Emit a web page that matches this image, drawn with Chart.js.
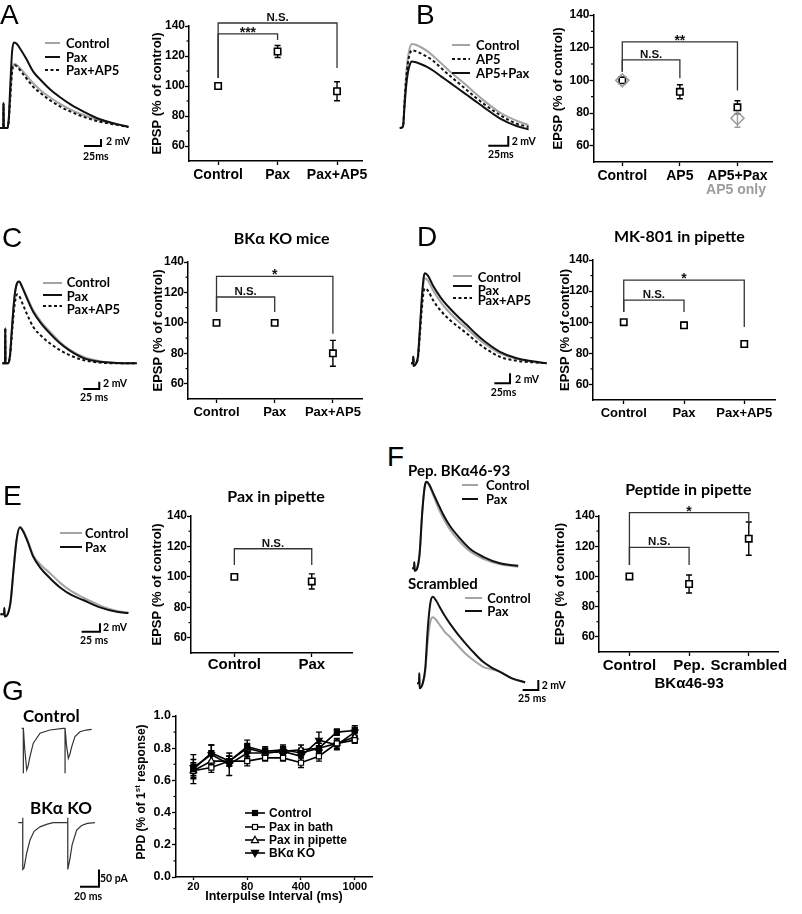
<!DOCTYPE html>
<html>
<head>
<meta charset="utf-8">
<title>EPSP figure</title>
<script src="https://cdn.jsdelivr.net/npm/chart.js@4.4.1/dist/chart.umd.min.js"></script>
<style>
  html, body { margin: 0; padding: 0; background: #fff; }
  #fig { position: relative; width: 802px; height: 914px; overflow: hidden; background: #fff; }
  #fig canvas, #fig svg, #fig div { position: absolute; }
  .lbl { white-space: nowrap; line-height: 1; color: #000; }
</style>
</head>
<body>
<div id="fig"></div>
<script>
// ---- summary plots: EPSP (% of control) ----
const epspTicks = [60, 80, 100, 120, 140]
const epspMinor = [70, 90, 110, 130]

const catsA = ['Control', 'Pax', 'Pax+AP5']
const meanA = [100, 123, 96.5]
const semA = [0, 4, 6.3]

const catsB = ['Control', 'AP5', 'AP5+Pax']
const meanB = [100, 93, 83.5]
const semB = [0, 4.3, 4]
const ap5OnlyB = [100, null, 76.8]
const ap5OnlySemB = [0, 0, 5.5]

const catsC = ['Control', 'Pax', 'Pax+AP5']
const meanC = [100, 100, 80]
const semC = [0, 1, 8.5]

const catsD = ['Control', 'Pax', 'Pax+AP5']
const meanD = [100, 98, 86]
const semD = [0, 1.8, 1.5]

const catsE = ['Control', 'Pax']
const meanE = [100, 97]
const semE = [0, 5]

const catsF = ['Control', ['Pep.', 'BKα46-93'], 'Scrambled']
const meanF = [100, 95, 125]
const semF = [0, 6, 11]

// significance brackets (value units)
const sigA = [
  {from: 0, to: 2, y: 142, l: 105.3, r: 112, text: 'N.S.'},
  {from: 0, to: 1, y: 134.7, l: 105.3, r: 130.7, text: '***'}
]
const sigB = [
  {from: 0, to: 2, y: 123.5, l: 105.3, r: 93.7, text: '**'},
  {from: 0, to: 1, y: 112.5, l: 105.3, r: 101.3, text: 'N.S.'}
]
const sigC = [
  {from: 0, to: 2, y: 130.6, l: 107.1, r: 92.9, text: '*'},
  {from: 0, to: 1, y: 117, l: 107.1, r: 107.1, text: 'N.S.'}
]
const sigD = [
  {from: 0, to: 2, y: 127.1, l: 106.6, r: 97, text: '*'},
  {from: 0, to: 1, y: 114.2, l: 106.6, r: 106.6, text: 'N.S.'}
]
const sigE = [
  {from: 0, to: 1, y: 118.5, l: 107.8, r: 107.8, text: 'N.S.'}
]
const sigF = [
  {from: 0, to: 2, y: 142.2, l: 107.5, r: 134, text: '*'},
  {from: 0, to: 1, y: 119.3, l: 107.5, r: 107.5, text: 'N.S.'}
]

// ---- example traces (ms, mV) ----
const tA = [-5, 0, 0.3, 0.7, 6, 8, 10, 13, 16, 20, 26, 34, 44, 56, 69, 84, 100, 118, 142, 167, 184]
const aPax = [0, 0, 7.1, 0, 0, 2.5, 11, 22, 24.4, 24.0, 22.3, 19.7, 16.1, 13.5, 11.0, 8.7, 6.6, 4.7, 2.5, 1.1, 0.3]
const aControl = [0, 0, 7.1, 0, 0, 2, 8, 16.5, 18.3, 18.0, 16.8, 15.0, 12.8, 10.6, 8.7, 6.8, 5.2, 3.7, 2.1, 1.1, 0.4]
const aPaxAp5 = [0, 0, 7.1, 0, 0, 2, 8, 16.3, 18.0, 17.6, 16.2, 14.2, 11.8, 9.8, 7.9, 6.1, 4.6, 3.2, 1.8, 0.9, 0.3]

const tB = [-4, 0, 2, 4, 6, 8, 11, 15, 22, 30, 38, 48, 59, 70, 80, 90, 100, 121, 142, 157]
const bControl = [0, 0.3, 6, 11, 14.3, 16.2, 17.3, 17.2, 16.7, 15.9, 14.8, 13.3, 11.6, 10.1, 8.7, 7.2, 5.8, 3.2, 1.5, 0.6]
const bAp5 = [0, 0.3, 5.5, 10.2, 13.3, 15.0, 16.0, 15.9, 15.4, 14.7, 13.8, 12.3, 10.7, 9.2, 7.8, 6.4, 5.1, 2.7, 0.9, 0.2]
const bAp5Pax = [0, 0.3, 4.7, 8.7, 11.3, 12.8, 13.7, 13.6, 13.2, 12.6, 11.8, 10.6, 9.3, 8.0, 6.8, 5.6, 4.4, 2.0, 0.4, -0.3]

const tC = [-4, 0, 0.4, 0.8, 5, 8, 11, 15, 19, 22, 27, 34, 44, 56, 70, 85, 100, 122, 148, 175, 206]
const cControl = [0, 0, 9.6, 0, 0, 2.5, 10, 18.5, 22.0, 22.4, 21.0, 18.3, 14.6, 11.5, 8.7, 6.0, 3.9, 1.8, 0.6, 0.1, 0]
const cPax = [0, 0, 9.6, 0, 0, 2.5, 10, 18.5, 22.0, 22.4, 20.8, 17.9, 14.1, 11.0, 8.2, 5.6, 3.6, 1.5, 0.4, 0.1, 0]
const cPaxAp5 = [0, 0, 9.6, 0, 0, 2.2, 8.5, 16, 18.9, 18.5, 16.5, 13.6, 10.0, 7.6, 5.5, 3.7, 2.3, 0.9, 0.2, 0, 0]

const tD = [-3, 0, 0.5, 1, 5, 8, 11, 14, 17, 19, 24, 32, 45, 60, 75, 85.5, 100, 115, 138.5, 165, 190, 213]
const dPax = [0, 0, 1.3, -0.5, 0, 1.5, 7, 13, 17.2, 18, 17.5, 15.5, 13, 10.8, 8.9, 7.7, 5.9, 4.3, 2.3, 1.0, 0.4, 0]
const dControl = [0, 0, 1.3, -0.5, 0, 1.4, 6.6, 12.3, 16.3, 17, 16.5, 14.6, 12.1, 9.9, 8.1, 7.0, 5.3, 3.8, 2.0, 0.9, 0.3, 0]
const dPaxAp5 = [0, 0, 1.3, -0.5, 0, 1.2, 5.8, 10.8, 14.4, 15, 14.5, 12.6, 10.4, 8.5, 7.0, 6.0, 4.4, 3.0, 1.3, 0.5, 0.2, 0]

const tE = [-5, 0, 0.5, 1, 5, 9, 13, 17, 21.8, 26, 32, 40, 50, 62.8, 78, 92, 108, 130, 154, 170]
const eControl = [0, 0, 1.5, -0.5, 0, 3, 10.5, 17.5, 20.7, 20.0, 17.8, 14.0, 11.8, 9.8, 7.3, 5.5, 4.0, 2.2, 0.8, 0.4]
const ePax = [0, 0, 1.5, -0.5, 0, 3, 10.5, 17.5, 20.7, 19.8, 17.4, 13.7, 11.0, 8.6, 6.2, 4.6, 3.4, 1.7, 0.6, 0.3]

const tF1 = [-3, 0, 0.5, 1, 5, 9, 13, 17, 20, 24, 30, 38, 46.7, 57, 73, 90, 110, 137, 166]
const f1Pax = [0, 0, 1.2, -0.5, 0, 3, 11, 16.3, 17.3, 16.8, 15.2, 13.0, 10.7, 8.5, 6.0, 3.8, 2.3, 1.0, 0.5]
const f1Control = [0, 0, 1.2, -0.5, 0, 3, 11, 16.3, 17.3, 16.6, 14.8, 12.3, 10.0, 7.8, 5.3, 3.3, 1.9, 0.8, 0.3]

const tF2 = [-3, 0, 0.5, 1, 6, 10, 14, 18, 22, 27, 34, 41, 49, 62, 76, 89, 102, 115, 129, 148, 169]
const f2Pax = [0, 0, 2, -1, 0, 3, 11, 16, 17.3, 16.6, 15.0, 13.5, 12.0, 9.8, 7.7, 5.9, 4.3, 3.2, 2.3, 1.0, 0.2]
const f2Control = [0, 0, 2, -1, 0, 2.5, 8.5, 12.3, 13.2, 12.7, 11.5, 10.3, 9.3, 7.5, 5.7, 4.4, 3.3, 2.8, 2.3, 1.0, 0.1]

// paired-pulse currents (ms, pA)
const tGc = [-1.7, 0, 0.05, 0.1, 1.5, 3.6, 5, 7, 10.5, 17.6, 28, 42, 43.9, 43.95, 44, 45.5, 47.4, 49, 51, 54.4, 59.7, 66, 72]
const gcTrace = [0, 0, -130, 0, -60, -120, -110, -82, -43, -14, -5, 0, 0, -130, 0, -50, -87, -75, -53, -24, -10, -5, -3]
const tGk = [-4.6, 0, 0.05, 0.1, 1.4, 4, 7.7, 12, 18.2, 25, 32, 47.4, 47.45, 47.5, 49.8, 52, 56.8, 62, 68, 76]
const gkTrace = [0, 0, 14, -135, -131, -90, -50, -25, -12, -5, 0, 0, 14, -135, -103, -64, -21, -8, -2, 0]

// ---- G: paired-pulse ratio ----
const gIntervals = [20, 40, 60, 80, 100, 200, 400, 600, 800, 1000]
const gTickLabels = [20, 80, 400, 1000]
const gYTicks = [0, 0.2, 0.4, 0.6, 0.8, 1.0]
const gYMinor = [0.1, 0.3, 0.5, 0.7, 0.9]
const gControl = [0.67, 0.77, 0.72, 0.81, 0.78, 0.79, 0.77, 0.80, 0.90, 0.91]
const gControlSem = [0.09, 0.05, 0.03, 0.04, 0.03, 0.03, 0.03, 0.03, 0.02, 0.03]
const gBath = [0.66, 0.68, 0.72, 0.72, 0.74, 0.74, 0.71, 0.75, 0.83, 0.85]
const gBathSem = [0.04, 0.03, 0.03, 0.03, 0.02, 0.02, 0.03, 0.03, 0.02, 0.02]
const gPipette = [0.66, 0.72, 0.72, 0.80, 0.77, 0.78, 0.79, 0.80, 0.83, 0.87]
const gPipetteSem = [0.05, 0.04, 0.03, 0.03, 0.03, 0.03, 0.03, 0.03, 0.03, 0.03]
const gKO = [0.68, 0.76, 0.70, 0.77, 0.77, 0.78, 0.75, 0.85, 0.82, 0.90]
const gKOSem = [0.05, 0.06, 0.07, 0.03, 0.03, 0.03, 0.03, 0.05, 0.03, 0.03]

const ARIAL = '"Liberation Sans", Arial, sans-serif'
const CALIBRI = 'Lato, "Open Sans", sans-serif'
const GRAY = '#a4a4a4'
Chart.defaults.font.family = ARIAL

const fig = document.getElementById('fig')
const NS = 'http://www.w3.org/2000/svg'

function addCanvas(left, top, w, h) {
  const c = document.createElement('canvas')
  c.width = w
  c.height = h
  c.style.cssText = `left:${left}px;top:${top}px;width:${w}px;height:${h}px`
  fig.appendChild(c)
  return c.getContext('2d')
}

function addText(html, x, y, font, opts = {}) {
  const d = document.createElement('div')
  d.className = 'lbl'
  d.innerHTML = html
  const tx = opts.left ? '0' : '-50%'
  d.style.cssText = `left:${x}px;top:${y}px;font:${font};color:${opts.color || '#000'};` +
    `transform:translate(${tx},-50%)${opts.rot ? ' rotate(-90deg)' : ''}`
  fig.appendChild(d)
}

function addLine(x1, x2, y, color, dash) {
  const s = document.createElementNS(NS, 'svg')
  s.setAttribute('width', x2 - x1)
  s.setAttribute('height', 6)
  s.style.cssText = `left:${x1}px;top:${y - 3}px`
  s.innerHTML = `<line x1="0" y1="3" x2="${x2 - x1}" y2="3" stroke="${color}" stroke-width="2"` +
    (dash ? ` stroke-dasharray="${dash}"` : '') + '/>'
  fig.appendChild(s)
}

// error bars, drawn under the markers
const errPlugin = {
  id: 'errbars',
  beforeDatasetsDraw(chart, args, opts) {
    if (!opts.sets) return
    const {ctx} = chart
    const y = chart.scales.y
    ctx.save()
    ctx.lineWidth = 1.4
    opts.sets.forEach((errs, di) => {
      if (!errs) return
      const ds = chart.data.datasets[di]
      const meta = chart.getDatasetMeta(di)
      ctx.strokeStyle = ds.borderColor
      meta.data.forEach((pt, j) => {
        const v = ds.data[j].y
        const e = errs[j]
        if (v == null || !e) return
        const top = y.getPixelForValue(v + e)
        const bot = y.getPixelForValue(v - e)
        ctx.beginPath()
        ctx.moveTo(pt.x, top); ctx.lineTo(pt.x, bot)
        ctx.moveTo(pt.x - 3, top); ctx.lineTo(pt.x + 3, top)
        ctx.moveTo(pt.x - 3, bot); ctx.lineTo(pt.x + 3, bot)
        ctx.stroke()
      })
    })
    ctx.restore()
  }
}

// significance brackets with labels
const bracketPlugin = {
  id: 'brackets',
  afterDraw(chart, args, opts) {
    if (!opts.items) return
    const {ctx} = chart
    const {x, y} = chart.scales
    ctx.save()
    ctx.strokeStyle = '#333'
    ctx.lineWidth = 1.3
    ctx.fillStyle = '#111'
    ctx.textAlign = 'center'
    opts.items.forEach(b => {
      const x1 = x.getPixelForValue(b.from)
      const x2 = x.getPixelForValue(b.to)
      const yy = y.getPixelForValue(b.y)
      ctx.beginPath()
      ctx.moveTo(x1, y.getPixelForValue(b.l))
      ctx.lineTo(x1, yy)
      ctx.lineTo(x2, yy)
      ctx.lineTo(x2, y.getPixelForValue(b.r))
      ctx.stroke()
      const star = b.text.includes('*')
      ctx.font = star ? `bold 14px ${ARIAL}` : `bold 11.5px ${ARIAL}`
      ctx.fillText(b.text, (x1 + x2) / 2, star ? yy + 3 : yy - 2)
    })
    ctx.restore()
  }
}

// short minor ticks on the y axis
const minorPlugin = {
  id: 'minor',
  afterDraw(chart, args, opts) {
    if (!opts.values) return
    const {ctx, chartArea} = chart
    const y = chart.scales.y
    ctx.save()
    ctx.strokeStyle = '#000'
    ctx.lineWidth = 1.2
    opts.values.forEach(v => {
      const py = y.getPixelForValue(v)
      ctx.beginPath()
      ctx.moveTo(chartArea.left - 2.5, py)
      ctx.lineTo(chartArea.left, py)
      ctx.stroke()
    })
    ctx.restore()
  }
}

Chart.register(errPlugin, bracketPlugin, minorPlugin)

const axisGrid = {drawOnChartArea: false, tickLength: 4, tickColor: '#000', tickWidth: 1.3}
const axisBorder = {color: '#000', width: 1.5}

function epspChart(p) {
  const w = p.right - p.left
  const h = p.bottom - p.top
  const pt = p.pt ?? 22
  const pr = 24
  const hx = p.hx ?? 32
  const ctx = addCanvas(p.left - p.wy, p.top - pt, p.wy + w + pr, pt + h + hx)
  const datasets = p.series.map(s => ({
    data: s.v.map((y, i) => ({x: i, y})),
    pointStyle: s.style || 'rect',
    pointRadius: s.r || 4.5,
    borderWidth: 1.6,
    borderColor: s.color || '#000',
    backgroundColor: s.fill || '#fff',
    order: s.order ?? 1
  }))
  new Chart(ctx, {
    type: 'scatter',
    data: {datasets},
    options: {
      responsive: false,
      animation: false,
      events: [],
      devicePixelRatio: 1,
      layout: {padding: {top: pt, right: pr, left: 0, bottom: 0}},
      plugins: {
        legend: {display: false},
        tooltip: {enabled: false},
        errbars: {sets: p.series.map(s => s.e)},
        brackets: {items: p.sig},
        minor: {values: epspMinor}
      },
      scales: {
        x: {
          type: 'linear', min: p.xmin, max: p.xmax,
          afterBuildTicks: s => { s.ticks = p.cats.map((_, i) => ({value: i})) },
          afterFit: s => { s.height = hx },
          grid: axisGrid,
          border: axisBorder,
          ticks: {
            callback: v => p.cats[v], color: '#000', padding: p.xpad ?? 2,
            maxRotation: 0, autoSkip: false, font: {size: p.cat, weight: 'bold'}
          }
        },
        y: {
          min: 50, max: 140,
          afterBuildTicks: s => { s.ticks = epspTicks.map(value => ({value})) },
          afterFit: s => { s.width = p.wy },
          grid: axisGrid,
          border: axisBorder,
          ticks: {color: '#000', padding: 0, font: {size: 12, weight: 'bold'}},
          title: {
            display: true, text: 'EPSP (% of control)', color: '#000', padding: 0,
            font: {size: p.tf || 13, weight: 'bold'}
          }
        }
      }
    }
  })
}

function traceChart(box, org, sc, lines, bar) {
  const [l, t, w, h] = box
  const ctx = addCanvas(l, t, w, h)
  const xmin = -(org[0] - l) / sc[0]
  const ymax = (org[1] - t) / sc[1]
  const datasets = lines.map((s, i) => ({
    data: s.t.map((x, k) => ({x, y: s.v[k]})),
    borderColor: s.c,
    borderWidth: s.w || 2,
    borderDash: s.d || [],
    pointRadius: 0,
    tension: s.sharp ? 0 : 0.4,
    cubicInterpolationMode: s.sharp ? 'default' : 'monotone',
    order: lines.length - i + 1
  }))
  if (bar) {
    datasets.push({
      data: [{x: bar.t - bar.w, y: bar.v}, {x: bar.t, y: bar.v}, {x: bar.t, y: bar.v + bar.h}],
      borderColor: '#000', borderWidth: 2, pointRadius: 0, tension: 0, order: 0
    })
  }
  new Chart(ctx, {
    type: 'line',
    data: {datasets},
    options: {
      responsive: false, animation: false, events: [], devicePixelRatio: 1,
      layout: {padding: 0},
      plugins: {legend: {display: false}, tooltip: {enabled: false}},
      scales: {
        x: {type: 'linear', display: false, min: xmin, max: xmin + w / sc[0]},
        y: {type: 'linear', display: false, min: ymax - h / sc[1], max: ymax}
      }
    }
  })
}

// ---------- A ----------
traceChart([0, 30, 140, 125], [3.3, 128], [0.68, 3.5], [
  {t: tA, v: aControl, c: GRAY},
  {t: tA, v: aPaxAp5, c: '#111', d: [3, 2.5]},
  {t: tA, v: aPax, c: '#111'}
], {t: 143.7, v: -5.14, w: 25, h: 2})
epspChart({left: 189, top: 26, right: 362, bottom: 161, xmin: -0.49, xmax: 2.42, wy: 39, cat: 14,
  cats: catsA, series: [{v: meanA, e: semA}], sig: sigA})

// ---------- B ----------
traceChart([398, 30, 140, 125], [403, 128], [0.8, 4.85], [
  {t: tB, v: bControl, c: GRAY},
  {t: tB, v: bAp5, c: '#111', d: [3, 2.5]},
  {t: tB, v: bAp5Pax, c: '#111'}
], {t: 131.6, v: -3.65, w: 25, h: 2})
epspChart({left: 593, top: 15, right: 772, bottom: 162, xmin: -0.5, xmax: 2.6, wy: 42.5, cat: 14, pt: 12,
  cats: catsB, sig: sigB, series: [
    {v: meanB, e: semB},
    {v: ap5OnlyB, e: ap5OnlySemB, style: 'rectRot', r: 6.5, color: '#9c9c9c', fill: 'rgba(255,255,255,0)', order: 0}
  ]})

// ---------- C ----------
traceChart([0, 270, 145, 122], [5, 363.3], [0.64, 3.65], [
  {t: tC, v: cControl, c: GRAY},
  {t: tC, v: cPaxAp5, c: '#111', d: [3, 2.5]},
  {t: tC, v: cPax, c: '#111'}
], {t: 147.3, v: -7.04, w: 25, h: 2})
epspChart({left: 188, top: 262, right: 362, bottom: 399, xmin: -0.49, xmax: 2.5, wy: 37, cat: 13,
  cats: catsC, series: [{v: meanC, e: semC}], sig: sigC})

// ---------- D ----------
traceChart([405, 262, 150, 126], [413, 363.3], [0.628, 5], [
  {t: tD, v: dControl, c: GRAY},
  {t: tD, v: dPaxAp5, c: '#111', d: [3, 2.5]},
  {t: tD, v: dPax, c: '#111'}
], {t: 154.5, v: -4.0, w: 25, h: 2})
epspChart({left: 593, top: 260, right: 775, bottom: 400, xmin: -0.51, xmax: 2.51, wy: 35, cat: 13,
  cats: catsD, series: [{v: meanD, e: semD}], sig: sigD})

// ---------- E ----------
traceChart([0, 520, 140, 118], [4, 614.3], [0.732, 4.2], [
  {t: tE, v: eControl, c: GRAY},
  {t: tE, v: ePax, c: '#111'}
], {t: 131.1, v: -4.14, w: 25, h: 2})
epspChart({left: 191, top: 516, right: 352, bottom: 653, xmin: -0.56, xmax: 1.52, wy: 41, cat: 15, xpad: -1,
  cats: catsE, series: [{v: meanE, e: semE}], sig: sigE})

// ---------- F ----------
traceChart([405, 475, 125, 98], [414, 568.3], [0.628, 5], [
  {t: tF1, v: f1Control, c: GRAY},
  {t: tF1, v: f1Pax, c: '#111'}
])
traceChart([405, 590, 140, 105], [419, 683.3], [0.628, 5], [
  {t: tF2, v: f2Control, c: GRAY},
  {t: tF2, v: f2Pax, c: '#111'}
], {t: 190, v: -1.34, w: 25, h: 2})
epspChart({left: 599, top: 516, right: 778, bottom: 652, xmin: -0.51, xmax: 2.49, wy: 46, cat: 15, hx: 48, xpad: 1,
  cats: catsF, series: [{v: meanF, e: semF}], sig: sigF})

// ---------- G ----------
traceChart([12, 715, 90, 65], [23.3, 728.3], [0.95, 0.346], [
  {t: tGc, v: gcTrace, c: '#333', w: 1.2, sharp: true}
])
traceChart([12, 812, 92, 80], [22.7, 822.7], [0.95, 0.346], [
  {t: tGk, v: gkTrace, c: '#333', w: 1.2, sharp: true}
], {t: 80.3, v: -185, w: 20, h: 50})

const gSeries = [
  {label: 'Control', v: gControl, e: gControlSem, style: 'rect', fill: '#000', r: 3.6},
  {label: 'Pax in bath', v: gBath, e: gBathSem, style: 'rect', fill: '#fff', r: 3.6},
  {label: 'Pax in pipette', v: gPipette, e: gPipetteSem, style: 'triangle', fill: '#fff', r: 3.8},
  {label: 'BKα KO', v: gKO, e: gKOSem, style: 'triangle', fill: '#000', r: 3.8, rot: 180}
]
{
  const left = 176, top = 716, right = 372, bottom = 877
  const wy = 34, pt = 10, pr = 20, hx = 27
  const ctx = addCanvas(left - wy, top - pt, wy + right - left + pr, pt + bottom - top + hx)
  new Chart(ctx, {
    type: 'line',
    data: {
      datasets: gSeries.map((s, i) => ({
        label: s.label,
        data: s.v.map((y, k) => ({x: k, y})),
        borderColor: '#000', borderWidth: 1.6, tension: 0,
        pointStyle: s.style, pointRadius: s.r, pointRotation: s.rot || 0,
        pointBackgroundColor: s.fill, pointBorderColor: '#000', pointBorderWidth: 1.2,
        order: i
      }))
    },
    options: {
      responsive: false, animation: false, events: [], devicePixelRatio: 1,
      layout: {padding: {top: pt, right: pr, left: 0, bottom: 0}},
      plugins: {
        legend: {display: false},
        tooltip: {enabled: false},
        errbars: {sets: gSeries.map(s => s.e)},
        minor: {values: gYMinor}
      },
      scales: {
        x: {
          type: 'linear', min: -0.97, max: 9.96,
          afterBuildTicks: s => { s.ticks = gTickLabels.map(v => ({value: gIntervals.indexOf(v)})) },
          afterFit: s => { s.height = hx },
          grid: {drawOnChartArea: false, tickLength: 3, tickColor: '#000', tickWidth: 1.3},
          border: axisBorder,
          ticks: {callback: v => gIntervals[v], color: '#000', padding: 0, maxRotation: 0, autoSkip: false,
            font: {size: 11, weight: 'bold'}},
          title: {display: true, text: 'Interpulse Interval (ms)', color: '#000', padding: 0,
            font: {size: 12.5, weight: 'bold'}}
        },
        y: {
          min: 0, max: 1,
          afterBuildTicks: s => { s.ticks = gYTicks.map(value => ({value})) },
          afterFit: s => { s.width = wy },
          grid: axisGrid,
          border: axisBorder,
          ticks: {callback: v => v.toFixed(1), color: '#000', padding: 1, font: {size: 12.5, weight: 'bold'}}
        }
      }
    }
  })
}

// ---------- text layer ----------
const LETTER = `28px ${ARIAL}`
addText('A', 0, 15, LETTER, {left: true})
addText('B', 416, 15, LETTER, {left: true})
addText('C', 2, 238, LETTER, {left: true})
addText('D', 417, 237, LETTER, {left: true})
addText('E', 3, 496, LETTER, {left: true})
addText('F', 387, 457, LETTER, {left: true})
addText('G', 2, 691, LETTER, {left: true})

const LEG = `bold 13px ${CALIBRI}`
function traceLegend(x1, x2, tx, rows) {
  rows.forEach(r => {
    addLine(x1, x2, r.ly ?? r.y, r.c, r.d)
    addText(r.text, tx, r.y, LEG, {left: true})
  })
}
traceLegend(45, 60, 66, [
  {text: 'Control', y: 43.3, c: GRAY},
  {text: 'Pax', y: 56.7, c: '#111'},
  {text: 'Pax+AP5', y: 70, c: '#111', d: '3 2.5'}
])
traceLegend(452, 470, 476, [
  {text: 'Control', y: 45, c: GRAY},
  {text: 'AP5', y: 59.3, c: '#111', d: '3 2.5'},
  {text: 'AP5+Pax', y: 72.7, c: '#111'}
])
traceLegend(43, 62, 66.7, [
  {text: 'Control', y: 281.7, ly: 282.7, c: GRAY},
  {text: 'Pax', y: 296, ly: 295, c: '#111'},
  {text: 'Pax+AP5', y: 308.5, ly: 306, c: '#111', d: '3 2.5'}
])
traceLegend(453, 472, 477.7, [
  {text: 'Control', y: 277, ly: 276, c: GRAY},
  {text: 'Pax', y: 290, ly: 286, c: '#111'},
  {text: 'Pax+AP5', y: 299.5, ly: 297.5, c: '#111', d: '3 2.5'}
])
traceLegend(60, 82, 85, [
  {text: 'Control', y: 533.3, c: GRAY},
  {text: 'Pax', y: 546.7, c: '#111'}
])
traceLegend(462, 478, 486, [
  {text: 'Control', y: 485, c: GRAY},
  {text: 'Pax', y: 499, c: '#111'}
])
traceLegend(465, 482, 487.3, [
  {text: 'Control', y: 598.3, c: GRAY},
  {text: 'Pax', y: 611, c: '#111'}
])

const BAR = `bold 10.5px ${CALIBRI}`
const barLabels = [
  ['2 mV', 106, 141], ['25ms', 83, 155.5],
  ['2 mV', 511.7, 141], ['25ms', 488, 154],
  ['2 mV', 103, 383], ['25 ms', 80, 397],
  ['2 mV', 515, 379], ['25ms', 490.7, 392.3],
  ['2 mV', 103, 627], ['25 ms', 80, 640],
  ['2 mV', 541.7, 685], ['25 ms', 518, 698.3],
  ['50 pA', 100, 877.7], ['20 ms', 74, 896]
]
barLabels.forEach(([s, x, y]) => addText(s, x, y, BAR, {left: true}))

const TITLE = `bold 16px ${CALIBRI}`
addText('BKα KO mice', 281.7, 236.7, TITLE)
addText('MK-801 in pipette', 679.3, 235, TITLE)
addText('Pax in pipette', 276, 495, TITLE)
addText('Peptide in pipette', 688.3, 488.3, TITLE)
addText('Pep. BKα46-93', 408, 470, `bold 15px ${CALIBRI}`, {left: true})
addText('Scrambled', 408, 583.3, `bold 15px ${CALIBRI}`, {left: true})
addText('Control', 23, 715, `bold 17px ${CALIBRI}`, {left: true})
addText('BKα KO', 30, 806.7, `bold 17px ${CALIBRI}`, {left: true})
addText('AP5 only', 736, 189, `bold 14px ${ARIAL}`, {color: '#9c9c9c'})

addText('PPD (% of 1<sup style="font-size:8px">st</sup> response)', 140, 792, `bold 12px ${ARIAL}`, {rot: true})

// G legend
const gLegendY = [813.3, 826.7, 840, 853.3]
gSeries.forEach((s, i) => {
  const y = gLegendY[i]
  const m = document.createElementNS(NS, 'svg')
  m.setAttribute('width', 22)
  m.setAttribute('height', 12)
  m.style.cssText = `left:244px;top:${y - 6}px`
  let mark
  if (s.style === 'rect') mark = `<rect x="8.5" y="3.5" width="5" height="5" fill="${s.fill}" stroke="#000" stroke-width="1.2"/>`
  else if (s.rot) mark = `<polygon points="11,9.8 14.6,3.4 7.4,3.4" fill="${s.fill}" stroke="#000" stroke-width="1.2"/>`
  else mark = `<polygon points="11,2.2 14.6,8.6 7.4,8.6" fill="${s.fill}" stroke="#000" stroke-width="1.2"/>`
  m.innerHTML = `<line x1="1" y1="6" x2="21" y2="6" stroke="#000" stroke-width="1.6"/>` + mark
  fig.appendChild(m)
  addText(s.label, 269, y, `bold 12px ${ARIAL}`, {left: true})
})
</script>
</body>
</html>
